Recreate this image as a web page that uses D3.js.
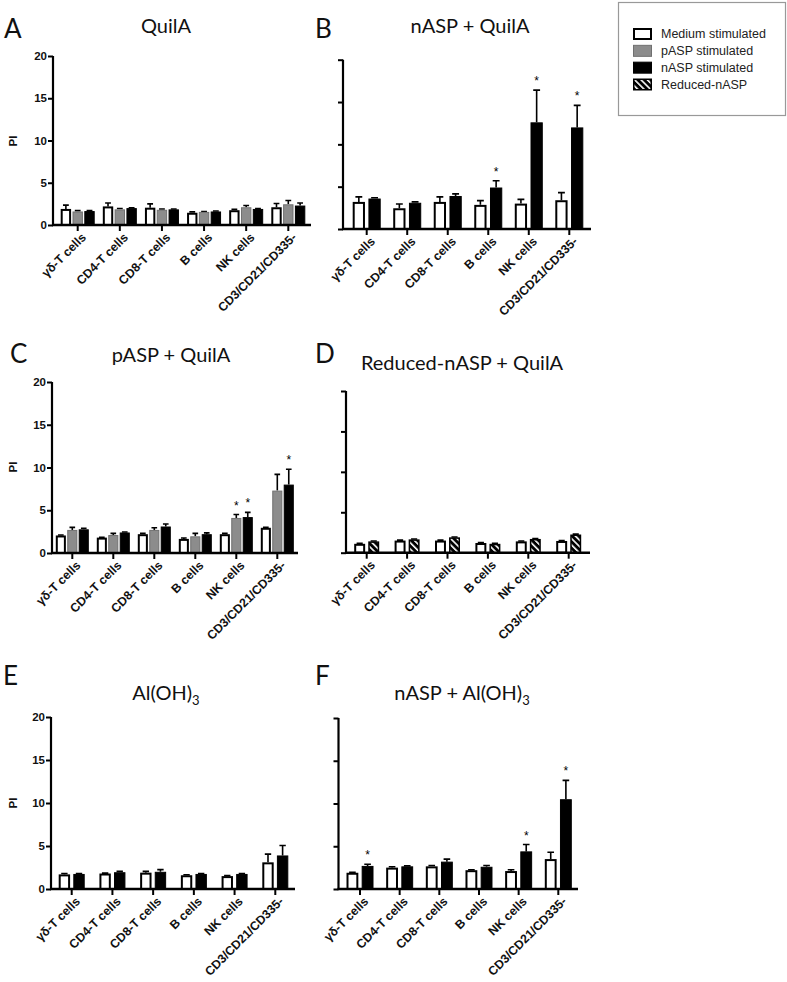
<!DOCTYPE html>
<html><head><meta charset="utf-8">
<script src="https://cdn.jsdelivr.net/npm/d3@7"></script>
<style>body{margin:0;background:#fff}svg{display:block}</style>
</head><body>
<svg id="chart" width="787" height="982"></svg>
<script>
// ---------- DATA ----------
const categories = ["γδ-T cells", "CD4-T cells", "CD8-T cells", "B cells", "NK cells", "CD3/CD21/CD335-"];
const yTickValues = [0, 5, 10, 15, 20];
const legendLabels = ["Medium stimulated", "pASP stimulated", "nASP stimulated", "Reduced-nASP"];

// A: QuilA
const quilA_medium    = [1.9, 2.2, 2.05, 1.45, 1.75, 2.1];
const quilA_mediumErr = [0.45, 0.4, 0.45, 0.1, 0.1, 0.45];
const quilA_pASP      = [1.6, 1.85, 1.8, 1.55, 2.1, 2.45];
const quilA_pASPErr   = [0.1, 0.1, 0.1, 0.05, 0.2, 0.45];
const quilA_nASP      = [1.65, 2.0, 1.85, 1.6, 1.9, 2.3];
const quilA_nASPErr   = [0.05, 0.05, 0.05, 0.05, 0.05, 0.3];

// B: nASP + QuilA
const nASPQuilA_medium    = [3.2, 2.45, 3.2, 2.85, 3.0, 3.4];
const nASPQuilA_mediumErr = [0.6, 0.5, 0.6, 0.5, 0.5, 0.9];
const nASPQuilA_nASP      = [3.6, 3.1, 3.9, 4.9, 12.6, 12.0];
const nASPQuilA_nASPErr   = [0.1, 0.1, 0.25, 0.8, 3.8, 2.6];
const nASPQuilA_nASPStars = ["B cells", "NK cells", "CD3/CD21/CD335-"];

// C: pASP + QuilA
const pASPQuilA_medium    = [2.05, 1.8, 2.2, 1.65, 2.2, 2.95];
const pASPQuilA_mediumErr = [0.05, 0.05, 0.1, 0.1, 0.1, 0.05];
const pASPQuilA_pASP      = [2.7, 2.1, 2.7, 1.95, 4.1, 7.3];
const pASPQuilA_pASPErr   = [0.3, 0.2, 0.25, 0.35, 0.4, 1.9];
const pASPQuilA_nASP      = [2.77, 2.4, 3.1, 2.2, 4.2, 8.0];
const pASPQuilA_nASPErr   = [0.13, 0.05, 0.3, 0.15, 0.55, 1.8];
const pASPQuilA_pASPStars = ["NK cells"];
const pASPQuilA_nASPStars = ["NK cells", "CD3/CD21/CD335-"];

// D: Reduced-nASP + QuilA
const redQuilA_medium     = [1.1, 1.5, 1.5, 1.2, 1.4, 1.45];
const redQuilA_mediumErr  = [0.05, 0.05, 0.05, 0.05, 0.05, 0.05];
const redQuilA_reduced    = [1.4, 1.65, 1.9, 1.1, 1.7, 2.25];
const redQuilA_reducedErr = [0.05, 0.05, 0.05, 0.05, 0.05, 0.05];

// E: Al(OH)3
const alum_medium    = [1.7, 1.8, 1.9, 1.6, 1.5, 3.1];
const alum_mediumErr = [0.1, 0.05, 0.15, 0.05, 0.05, 0.95];
const alum_nASP      = [1.75, 1.95, 2.0, 1.75, 1.75, 3.9];
const alum_nASPErr   = [0.05, 0.1, 0.25, 0.05, 0.05, 1.15];

// F: nASP + Al(OH)3
const nASPAlum_medium    = [1.9, 2.5, 2.65, 2.2, 2.1, 3.5];
const nASPAlum_mediumErr = [0.05, 0.1, 0.1, 0.05, 0.15, 0.8];
const nASPAlum_nASP      = [2.7, 2.65, 3.2, 2.6, 4.4, 10.5];
const nASPAlum_nASPErr   = [0.2, 0.05, 0.3, 0.15, 0.8, 2.2];
const nASPAlum_nASPStars = ["γδ-T cells", "NK cells", "CD3/CD21/CD335-"];

// ---------- PANELS ----------
const panels = [
  { letter: "A", title: ["QuilA"], labels: true,
    series: [
      { key: "medium", values: quilA_medium, errors: quilA_mediumErr },
      { key: "pASP", values: quilA_pASP, errors: quilA_pASPErr },
      { key: "nASP", values: quilA_nASP, errors: quilA_nASPErr }],
    box: { axisX: 53, xEnd: 311, first: 77.7, last: 288.3, yTop: 56, yBase: 225, groupW: 34,
           titleX: 166, titleY: 33, letterX: 4, letterY: 38, piY: 141 } },
  { letter: "B", title: ["nASP + QuilA"], labels: false,
    series: [
      { key: "medium", values: nASPQuilA_medium, errors: nASPQuilA_mediumErr },
      { key: "nASP", values: nASPQuilA_nASP, errors: nASPQuilA_nASPErr, stars: nASPQuilA_nASPStars }],
    box: { axisX: 343, xEnd: 591, first: 366.7, last: 569.3, yTop: 59.7, yBase: 229, groupW: 28,
           titleX: 470, titleY: 33, letterX: 315, letterY: 38 } },
  { letter: "C", title: ["pASP + QuilA"], labels: true,
    series: [
      { key: "medium", values: pASPQuilA_medium, errors: pASPQuilA_mediumErr },
      { key: "pASP", values: pASPQuilA_pASP, errors: pASPQuilA_pASPErr, stars: pASPQuilA_pASPStars },
      { key: "nASP", values: pASPQuilA_nASP, errors: pASPQuilA_nASPErr, stars: pASPQuilA_nASPStars }],
    box: { axisX: 52, xEnd: 298, first: 72.3, last: 277.3, yTop: 382, yBase: 553, groupW: 33,
           titleX: 171, titleY: 362, letterX: 10, letterY: 363, piY: 467 } },
  { letter: "D", title: ["Reduced-nASP + QuilA"], labels: false,
    series: [
      { key: "medium", values: redQuilA_medium, errors: redQuilA_mediumErr },
      { key: "reduced", values: redQuilA_reduced, errors: redQuilA_reducedErr }],
    box: { axisX: 346, xEnd: 590, first: 366.7, last: 568.7, yTop: 391, yBase: 552.7, groupW: 25,
           titleX: 462, titleY: 370, letterX: 315, letterY: 363 } },
  { letter: "E", title: ["Al(OH)", "3"], labels: true,
    series: [
      { key: "medium", values: alum_medium, errors: alum_mediumErr },
      { key: "nASP", values: alum_nASP, errors: alum_nASPErr }],
    box: { axisX: 51, xEnd: 295, first: 71.7, last: 275.3, yTop: 717, yBase: 889, groupW: 26,
           titleX: 166, titleY: 700, letterX: 3, letterY: 685, piY: 803 } },
  { letter: "F", title: ["nASP + Al(OH)", "3"], labels: false,
    series: [
      { key: "medium", values: nASPAlum_medium, errors: nASPAlum_mediumErr },
      { key: "nASP", values: nASPAlum_nASP, errors: nASPAlum_nASPErr, stars: nASPAlum_nASPStars }],
    box: { axisX: 338.5, xEnd: 578, first: 360, last: 558.3, yTop: 718, yBase: 889, groupW: 27,
           titleX: 462, titleY: 700, letterX: 315, letterY: 685 } }
];

// ---------- DRAW ----------
const svg = d3.select("#chart");
const defs = svg.append("defs");
const hatch = defs.append("pattern").attr("id", "hatch")
  .attr("patternUnits", "userSpaceOnUse").attr("width", 4.5).attr("height", 4.5)
  .attr("patternTransform", "rotate(-45)");
hatch.append("rect").attr("width", 4.5).attr("height", 4.5).attr("fill", "#000");
hatch.append("rect").attr("x", 0).attr("width", 1.6).attr("height", 4.5).attr("fill", "#fff");

const styleFor = {
  medium:  { fill: "#fff", stroke: "#000", sw: 2 },
  pASP:    { fill: "#8c8c8c", stroke: "#707070", sw: 1 },
  nASP:    { fill: "#000", stroke: "#000", sw: 1 },
  reduced: { fill: "url(#hatch)", stroke: "#000", sw: 1.5 }
};

const FONT = "'Liberation Sans', Arial, sans-serif";
const TITLEFONT = "Lato, 'Open Sans', sans-serif";

panels.forEach(p => {
  const b = p.box;
  const step = (b.last - b.first) / (categories.length - 1);
  const x = d3.scaleBand().domain(categories)
    .range([b.first - step / 2, b.last + step / 2]).padding(0);
  const y = d3.scaleLinear().domain([0, 20]).range([b.yBase, b.yTop]);
  const keys = p.series.map(s => s.key);
  const xs = d3.scaleBand().domain(keys).range([0, b.groupW]).paddingInner(p.series.length === 3 ? 0.12 : 0.22);
  const g = svg.append("g");

  // panel letter & title
  g.append("text").attr("x", b.letterX).attr("y", b.letterY)
    .attr("font-family", TITLEFONT).attr("font-size", 26).attr("fill", "#111").text(p.letter);
  const t = g.append("text").attr("x", b.titleX).attr("y", b.titleY).attr("text-anchor", "middle")
    .attr("font-family", TITLEFONT).attr("font-size", 20).attr("fill", "#111");
  t.append("tspan").text(p.title[0]);
  if (p.title[1]) t.append("tspan").attr("font-size", 13).attr("dy", 5).text(p.title[1]);

  // bars
  p.series.forEach(s => {
    const st = styleFor[s.key];
    const inset = st.sw / 2;
    const data = categories.map((c, i) => ({ c, v: s.values[i], e: s.errors[i], star: (s.stars || []).includes(c) }));
    const bx = d => x(d.c) + (x.bandwidth() - b.groupW) / 2 + xs(s.key);
    // error bars (upper only)
    g.selectAll(null).data(data).enter().append("path")
      .attr("d", d => {
        const cx = bx(d) + xs.bandwidth() / 2;
        const cw = xs.bandwidth() * 0.28;
        return `M${cx},${y(d.v)}V${y(d.v + d.e)}M${cx - cw},${y(d.v + d.e)}H${cx + cw}`;
      })
      .attr("stroke", "#000").attr("stroke-width", 1.6).attr("fill", "none");
    g.selectAll(null).data(data).enter().append("rect")
      .attr("x", d => bx(d) + inset)
      .attr("width", xs.bandwidth() - 2 * inset)
      .attr("y", d => y(d.v) + inset)
      .attr("height", d => Math.max(0, y(0) - y(d.v) - inset))
      .attr("fill", st.fill).attr("stroke", st.stroke).attr("stroke-width", st.sw);
    g.selectAll(null).data(data.filter(d => d.star)).enter().append("text")
      .attr("x", d => bx(d) + xs.bandwidth() / 2)
      .attr("y", d => y(d.v + d.e) - 5)
      .attr("text-anchor", "middle").attr("font-family", FONT).attr("font-size", 12)
      .attr("fill", "#000").text("*");
  });

  // y axis
  const ya = g.append("g").attr("transform", `translate(${b.axisX},0)`)
    .call(d3.axisLeft(y).tickValues(yTickValues).tickSize(5).tickPadding(1)
      .tickFormat(p.labels ? d3.format("d") : () => ""));
  ya.select(".domain").attr("stroke-width", 2.2).attr("d", `M0,${b.yTop}V${b.yBase}`);
  ya.selectAll(".tick line").attr("stroke-width", 2);
  ya.selectAll(".tick text").attr("font-family", FONT).attr("font-weight", "bold")
    .attr("font-size", 11.5).attr("fill", "#111");

  // x axis
  const xa = g.append("g").attr("transform", `translate(0,${b.yBase})`)
    .call(d3.axisBottom(x).tickSize(6).tickPadding(0));
  xa.select(".domain").attr("stroke-width", 2.5).attr("d", `M${b.axisX - 1},0H${b.xEnd}`);
  xa.selectAll(".tick line").attr("stroke-width", 2);
  xa.selectAll(".tick text").attr("font-family", FONT).attr("font-weight", "bold")
    .attr("font-size", 12.3).attr("fill", "#111")
    .attr("text-anchor", "end").attr("dy", "0.35em")
    .attr("transform", "translate(6,10) rotate(-45)").attr("y", 0).attr("x", 0);

  if (p.labels) {
    g.append("text").attr("transform", `translate(17,${b.piY}) rotate(-90)`)
      .attr("text-anchor", "middle").attr("font-family", FONT).attr("font-weight", "bold")
      .attr("font-size", 11.5).attr("fill", "#111").text("PI");
  }
});

// ---------- LEGEND ----------
const lg = svg.append("g");
lg.append("rect").attr("x", 618.5).attr("y", 2.5).attr("width", 167).attr("height", 113)
  .attr("fill", "#fff").attr("stroke", "#999").attr("stroke-width", 1.2);
const legendKeys = ["medium", "pASP", "nASP", "reduced"];
const ly = d3.scalePoint().domain(legendKeys).range([34, 84.5]);
legendKeys.forEach((k, i) => {
  const st = styleFor[k];
  const inset = st.sw / 2;
  lg.append("rect").attr("x", 633 + inset).attr("y", ly(k) - 6 + inset)
    .attr("width", 19 - 2 * inset).attr("height", 12 - 2 * inset)
    .attr("fill", st.fill).attr("stroke", st.stroke).attr("stroke-width", st.sw);
  lg.append("text").attr("x", 661).attr("y", ly(k)).attr("dy", "0.35em")
    .attr("font-family", FONT).attr("font-size", 12.5).attr("fill", "#222").text(legendLabels[i]);
});
</script>
</body></html>
